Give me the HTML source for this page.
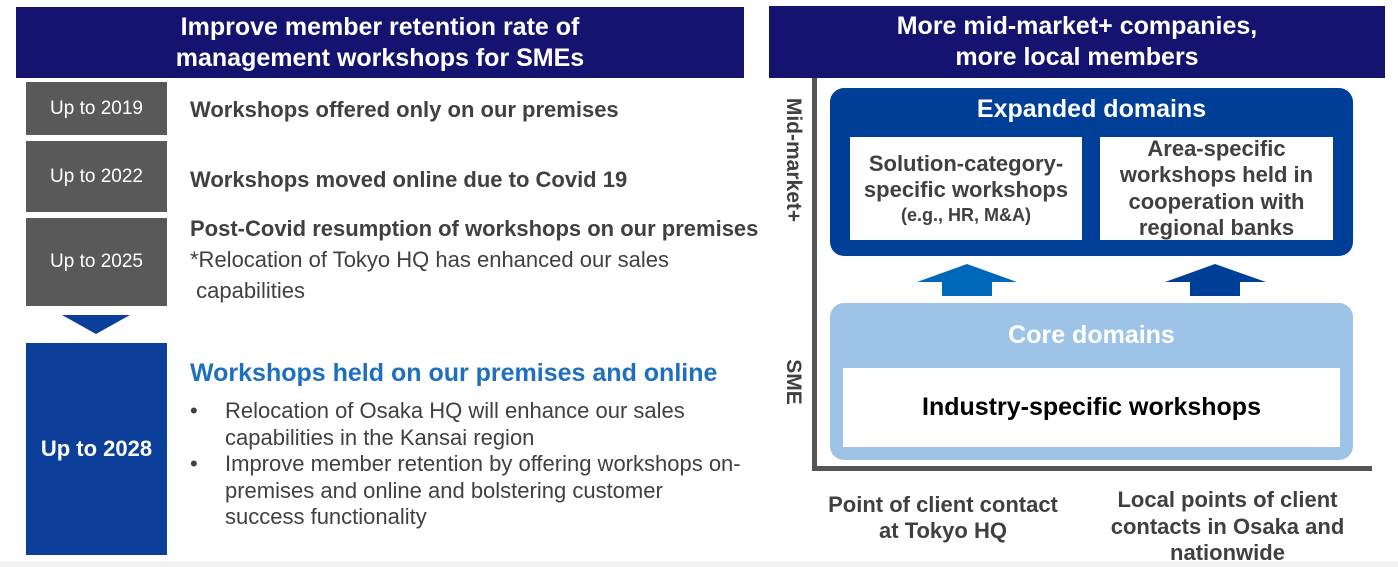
<!DOCTYPE html>
<html><head><meta charset="utf-8"><style>
body{margin:0;width:1398px;height:567px;background:#fff;position:relative;overflow:hidden;font-family:"Liberation Sans",sans-serif;}
div{position:absolute;box-sizing:border-box;}
.hdr{background:#141470;color:#fff;font-weight:bold;font-size:25px;line-height:31px;text-align:center;display:flex;align-items:center;justify-content:center;}
.yr{background:#595959;color:#fff;font-size:19px;display:flex;align-items:center;justify-content:center;left:26px;width:141px;}
.t{color:#404040;font-size:22px;white-space:nowrap;line-height:25px;}
.b{font-weight:bold;}
.w{background:#fff;color:#404040;font-weight:bold;text-align:center;display:flex;flex-direction:column;align-items:center;justify-content:center;}
</style></head><body>
<div class="hdr" style="left:16px;top:7px;width:728px;height:71px;">Improve member retention rate of<br>management workshops for SMEs</div>
<div class="hdr" style="left:769px;top:6px;width:616px;height:72px;">More mid-market+ companies,<br>more local members</div>

<div class="yr" style="top:82px;height:53px;">Up to 2019</div>
<div class="yr" style="top:141px;height:71px;">Up to 2022</div>
<div class="yr" style="top:218px;height:88px;">Up to 2025</div>
<div style="left:62px;top:315px;width:0;height:0;border-left:34px solid transparent;border-right:34px solid transparent;border-top:19px solid #0b3f9a;"></div>
<div style="left:26px;top:343px;width:141px;height:212px;background:#0b3f9a;color:#fff;font-weight:bold;font-size:22px;display:flex;align-items:center;justify-content:center;">Up to 2028</div>

<div class="t b" style="left:190px;top:97px;">Workshops offered only on our premises</div>
<div class="t b" style="left:190px;top:167px;">Workshops moved online due to Covid 19</div>
<div class="t b" style="left:190px;top:216px;">Post-Covid resumption of workshops on our premises</div>
<div class="t" style="left:190px;top:244px;line-height:31px;">*Relocation of Tokyo HQ has enhanced our sales<br>&nbsp;capabilities</div>
<div class="t b" style="left:190px;top:359px;color:#1f6fc0;font-size:25px;line-height:28px;">Workshops held on our premises and online</div>
<div class="t" style="left:190px;top:398px;line-height:26.5px;">
<div style="left:0;top:0;">•</div><div style="left:35px;top:0;">Relocation of Osaka HQ will enhance our sales<br>capabilities in the Kansai region</div>
<div style="left:0;top:53px;">•</div><div style="left:35px;top:53px;">Improve member retention by offering workshops on-<br>premises and online and bolstering customer<br>success functionality</div>
</div>

<!-- right -->
<div style="left:812px;top:78px;width:5px;height:393px;background:#555;"></div>
<div style="left:812px;top:466px;width:560px;height:5px;background:#555;"></div>
<div style="left:793px;top:160px;transform:translate(-50%,-50%) rotate(90deg);font-weight:bold;font-size:21px;color:#404040;white-space:nowrap;">Mid-market+</div>
<div style="left:793px;top:382px;transform:translate(-50%,-50%) rotate(90deg);font-weight:bold;font-size:21px;color:#404040;white-space:nowrap;">SME</div>

<div style="left:830px;top:88px;width:523px;height:168px;background:#003f98;border-radius:14px;"></div>
<div style="left:830px;top:95px;width:523px;text-align:center;color:#fff;font-weight:bold;font-size:25px;line-height:28px;">Expanded domains</div>
<div class="w" style="left:850px;top:137px;width:232px;height:103px;font-size:22px;line-height:26px;">Solution-category-<br>specific workshops<span style="font-size:18px;line-height:24px;">(e.g., HR, M&amp;A)</span></div>
<div class="w" style="left:1100px;top:137px;width:233px;height:103px;font-size:22px;line-height:26.5px;">Area-specific<br>workshops held in<br>cooperation with<br>regional banks</div>

<svg style="position:absolute;left:0;top:0" width="1398" height="567">
<polygon points="917,282 942,282 942,296 992,296 992,282 1017,282 967,264" fill="#0068b8"/>
<polygon points="1165,282 1190,282 1190,296 1240,296 1240,282 1266,282 1215,264" fill="#003f98"/>
</svg>

<div style="left:830px;top:303px;width:523px;height:157px;background:#9dc3e6;border-radius:14px;"></div>
<div style="left:830px;top:321px;width:523px;text-align:center;color:#fff;font-weight:bold;font-size:25px;line-height:28px;">Core domains</div>
<div class="w" style="left:843px;top:368px;width:497px;height:79px;color:#000;font-size:25px;">Industry-specific workshops</div>

<div style="left:813px;top:492px;width:260px;text-align:center;font-weight:bold;font-size:22px;line-height:26px;color:#404040;">Point of client contact<br>at Tokyo HQ</div>
<div style="left:1085px;top:487px;width:285px;text-align:center;font-weight:bold;font-size:22px;line-height:26.5px;color:#404040;">Local points of client<br>contacts in Osaka and<br>nationwide</div>
<div style="left:0;top:561px;width:1398px;height:6px;background:#f2f2f2;"></div>
</body></html>
